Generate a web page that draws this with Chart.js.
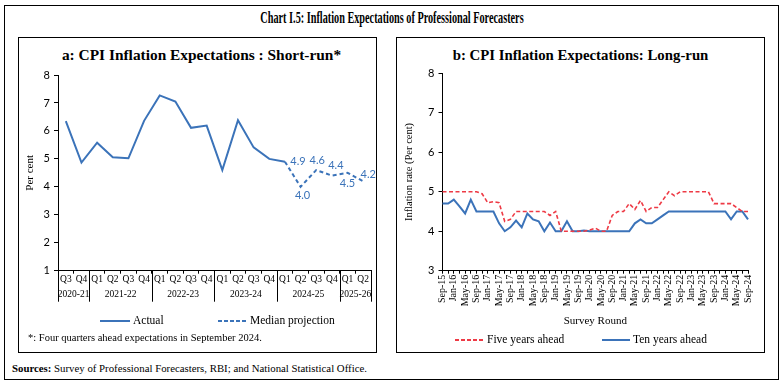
<!DOCTYPE html>
<html>
<head>
<meta charset="utf-8">
<script src="https://cdn.jsdelivr.net/npm/chart.js@4.4.0/dist/chart.umd.min.js"></script>
<style>
  body { margin:0; width:784px; height:387px; position:relative; overflow:hidden; background:#fff;
         font-family:'Liberation Serif', serif; color:#000; }
  .box { position:absolute; border:1px solid #000; box-sizing:border-box; }
  .txt { position:absolute; white-space:nowrap; }
  .ctr { text-align:center; }
  canvas { position:absolute; }
  .sw { position:absolute; height:2px; }
</style>
</head>
<body>
<div class="box" style="left:4px;top:5px;width:775px;height:375px;"></div>
<div class="txt ctr" style="left:0;width:784px;top:8px;line-height:20px;font-size:16px;font-weight:bold;transform:scaleX(0.64);transform-origin:392px 0;">Chart I.5: Inflation Expectations of Professional Forecasters</div>

<div class="box" style="left:18px;top:37px;width:359px;height:316px;"></div>
<div class="box" style="left:396px;top:37px;width:369px;height:316px;"></div>

<div class="txt ctr" style="left:18px;width:367px;top:46px;line-height:18px;font-size:15.4px;font-weight:bold;">a: CPI Inflation Expectations : Short-run*</div>
<div class="txt ctr" style="left:396px;width:369px;top:46px;line-height:18px;font-size:14.8px;font-weight:bold;">b: CPI Inflation Expectations: Long-run</div>

<canvas id="chartA" width="358" height="316" style="left:18px;top:37px;"></canvas>
<canvas id="chartB" width="368" height="316" style="left:396px;top:37px;"></canvas>

<!-- legend, panel a -->
<div class="sw" style="left:100px;top:320px;width:30px;background:#3b73b9;"></div>
<div class="txt" style="left:133px;top:313px;line-height:15px;font-size:11.5px;">Actual</div>
<div class="sw" style="left:218px;top:320px;width:29px;background:repeating-linear-gradient(90deg,#3b73b9 0 4px,transparent 4px 6px);"></div>
<div class="txt" style="left:250px;top:313px;line-height:15px;font-size:11.5px;">Median projection</div>
<div class="txt" style="left:28px;top:330px;line-height:15px;font-size:10.5px;">*: Four quarters ahead expectations in September 2024.</div>

<!-- legend, panel b -->
<div class="sw" style="left:455px;top:339px;width:28px;background:repeating-linear-gradient(90deg,#ee3a45 0 4px,transparent 4px 6px);"></div>
<div class="txt" style="left:487px;top:332px;line-height:15px;font-size:11.5px;">Five years ahead</div>
<div class="sw" style="left:602px;top:339px;width:28px;background:#3b73b9;"></div>
<div class="txt" style="left:633px;top:332px;line-height:15px;font-size:11.5px;">Ten years ahead</div>

<div class="txt" style="left:12px;top:361px;line-height:14px;font-size:10.8px;"><b>Sources:</b> Survey of Professional Forecasters, RBI; and National Statistical Office.</div>

<script>
// ---- panel a: short-run expectations ----
const quarterLabels = ['Q3','Q4','Q1','Q2','Q3','Q4','Q1','Q2','Q3','Q4',
                       'Q1','Q2','Q3','Q4','Q1','Q2','Q3','Q4','Q1','Q2'];
const fiscalYears = ['2020-21','2021-22','2022-23','2023-24','2024-25','2025-26'];
const quartersInYear = [2, 4, 4, 4, 4, 2];
const actualCPI = [6.35, 4.87, 5.58, 5.06, 5.02, 6.36, 7.27, 7.05, 6.11, 6.19,
                   4.6, 6.38, 5.41, 5.0, 4.9, null, null, null, null, null];
const medianProjection = [null, null, null, null, null, null, null, null, null, null,
                          null, null, null, null, 4.9, 4.0, 4.6, 4.4, 4.5, 4.2];

// ---- panel b: long-run expectations ----
const surveyRounds = ['Sep-15','Nov-15','Jan-16','Mar-16','May-16','Jul-16','Sep-16','Nov-16','Jan-17','Mar-17',
  'May-17','Jul-17','Sep-17','Nov-17','Jan-18','Mar-18','May-18','Jul-18','Sep-18','Nov-18',
  'Jan-19','Mar-19','May-19','Jul-19','Sep-19','Nov-19','Jan-20','Mar-20','May-20','Jul-20',
  'Sep-20','Nov-20','Jan-21','Mar-21','May-21','Jul-21','Sep-21','Nov-21','Jan-22','Mar-22',
  'May-22','Jul-22','Sep-22','Nov-22','Jan-23','Mar-23','May-23','Jul-23','Sep-23','Nov-23',
  'Jan-24','Mar-24','May-24','Jul-24','Sep-24'];
const fiveYearsAhead = [5.0, 5.0, 5.0, 5.0, 5.0, 5.0, 5.0, 4.95, 4.72, 4.75,
  4.72, 4.25, 4.3, 4.5, 4.5, 4.5, 4.5, 4.5, 4.5, 4.4,
  4.5, 4.0, 4.0, 4.0, 4.0, 4.0, 4.03, 4.08, 4.0, 4.0,
  4.4, 4.5, 4.5, 4.7, 4.55, 4.78, 4.5, 4.6, 4.6, 4.8,
  5.0, 4.9, 5.0, 5.0, 5.0, 5.0, 5.0, 5.0, 4.7, 4.7,
  4.7, 4.7, 4.6, 4.5, 4.5];
const tenYearsAhead = [4.7, 4.7, 4.8, 4.63, 4.45, 4.8, 4.5, 4.5, 4.5, 4.5,
  4.2, 4.0, 4.1, 4.27, 4.1, 4.45, 4.3, 4.25, 4.0, 4.22,
  4.0, 4.0, 4.25, 4.0, 4.0, 4.02, 4.0, 4.0, 4.0, 4.0,
  4.0, 4.0, 4.0, 4.0, 4.2, 4.3, 4.2, 4.2, 4.3, 4.4,
  4.5, 4.5, 4.5, 4.5, 4.5, 4.5, 4.5, 4.5, 4.5, 4.5,
  4.5, 4.3, 4.5, 4.5, 4.3];

const BLUE = '#3b73b9';
const RED = '#ee3a45';
const SERIF = 'Liberation Serif';
const SANS = 'Lato';

// fiscal-year row under the quarter labels, with separators
const yearGroups = {
  id: 'yearGroups',
  afterDraw(chart) {
    const x = chart.scales.x, ctx = chart.ctx;
    const half = (x.getPixelForValue(1) - x.getPixelForValue(0)) / 2;
    const top = chart.chartArea.bottom, bottom = top + 31;
    ctx.save();
    ctx.strokeStyle = '#000';
    ctx.lineWidth = 1;
    ctx.fillStyle = '#000';
    ctx.font = '9.5px "' + SERIF + '"';
    ctx.textAlign = 'center';
    ctx.textBaseline = 'middle';
    const vline = px => {
      const p = Math.round(px) + 0.5;
      ctx.beginPath(); ctx.moveTo(p, top); ctx.lineTo(p, bottom); ctx.stroke();
    };
    let start = 0;
    vline(x.getPixelForValue(0) - half);
    fiscalYears.forEach((yr, k) => {
      const end = start + quartersInYear[k] - 1;
      const l = x.getPixelForValue(start) - half, r = x.getPixelForValue(end) + half;
      vline(r);
      ctx.fillText(yr, (l + r) / 2, top + 24);
      start = end + 1;
    });
    ctx.restore();
  }
};

// value labels on the projection points
const pointLabels = {
  id: 'pointLabels',
  afterDatasetsDraw(chart, args, opts) {
    const ds = chart.data.datasets[opts.dataset];
    const meta = chart.getDatasetMeta(opts.dataset);
    const ctx = chart.ctx;
    ctx.save();
    ctx.font = '11px "' + SANS + '"';
    ctx.fillStyle = BLUE;
    ctx.textAlign = 'center';
    ctx.textBaseline = 'middle';
    let k = 0;
    ds.data.forEach((v, i) => {
      if (v == null) return;
      const off = opts.offsets[k++] || [0, -10];
      const pt = meta.data[i];
      ctx.fillText(v.toFixed(1), pt.x + off[0], pt.y + off[1]);
    });
    ctx.restore();
  }
};

new Chart(document.getElementById('chartA'), {
  type: 'line',
  data: {
    labels: quarterLabels,
    datasets: [
      { label: 'Actual', data: actualCPI, borderColor: BLUE, borderWidth: 2, pointRadius: 0, tension: 0 },
      { label: 'Median projection', data: medianProjection, borderColor: BLUE, borderWidth: 2,
        borderDash: [4, 3], pointRadius: 0, tension: 0 }
    ]
  },
  options: {
    responsive: false,
    animation: false,
    layout: { padding: { top: 38, left: 1.4, right: 5, bottom: 37.3 } },
    plugins: {
      legend: { display: false },
      tooltip: { enabled: false },
      pointLabels: { dataset: 1, offsets: [[13, 0], [2, 9], [1, -10], [4, -10], [0, 11], [5, -7]] }
    },
    scales: {
      x: {
        offset: true,
        grid: { offset: true, drawOnChartArea: false, tickLength: 3, color: '#000' },
        border: { color: '#000' },
        ticks: { autoSkip: false, maxRotation: 0, padding: 0, color: '#000', font: { family: SERIF, size: 9.5 } },
        afterFit: s => { s.height = 45; }
      },
      y: {
        min: 1, max: 8,
        grid: { drawOnChartArea: false, tickLength: 4, color: '#000' },
        border: { color: '#000' },
        ticks: { stepSize: 1, padding: 4, color: '#000', font: { family: SANS, size: 11 } },
        title: { display: true, text: 'Per cent', color: '#000', padding: { top: 4 }, font: { family: SERIF, size: 11 } },
        afterFit: s => { s.width = 38.6; }
      }
    }
  },
  plugins: [yearGroups, pointLabels]
});

new Chart(document.getElementById('chartB'), {
  type: 'line',
  data: {
    labels: surveyRounds,
    datasets: [
      { label: 'Five years ahead', data: fiveYearsAhead, borderColor: RED, borderWidth: 1.6,
        borderDash: [4, 2.5], pointRadius: 0, tension: 0 },
      { label: 'Ten years ahead', data: tenYearsAhead, borderColor: BLUE, borderWidth: 2,
        pointRadius: 0, tension: 0 }
    ]
  },
  options: {
    responsive: false,
    animation: false,
    layout: { padding: { top: 36.3, left: 3.4, right: 16, bottom: 21.4 } },
    plugins: { legend: { display: false }, tooltip: { enabled: false } },
    scales: {
      x: {
        grid: { drawOnChartArea: false, tickLength: 3, color: '#000' },
        border: { color: '#000' },
        ticks: {
          autoSkip: false, minRotation: 90, maxRotation: 90, padding: 1, color: '#000',
          font: { family: SERIF, size: 10 },
          callback: (v, i) => (i % 2 === 0 ? surveyRounds[i] : '')
        },
        title: { display: true, text: 'Survey Round', color: '#000', padding: { top: 4, bottom: 4 }, font: { family: SERIF, size: 11 } },
        afterFit: s => { s.height = 60.9; }
      },
      y: {
        min: 3, max: 8,
        grid: { drawOnChartArea: false, tickLength: 4, color: '#000' },
        border: { color: '#000' },
        ticks: { stepSize: 1, padding: 4, color: '#000', font: { family: SANS, size: 11 } },
        title: { display: true, text: 'Inflation rate (Per cent)', color: '#000', padding: { top: 4 }, font: { family: SERIF, size: 10.5 } },
        afterFit: s => { s.width = 43.1; }
      }
    }
  }
});
</script>
</body>
</html>
